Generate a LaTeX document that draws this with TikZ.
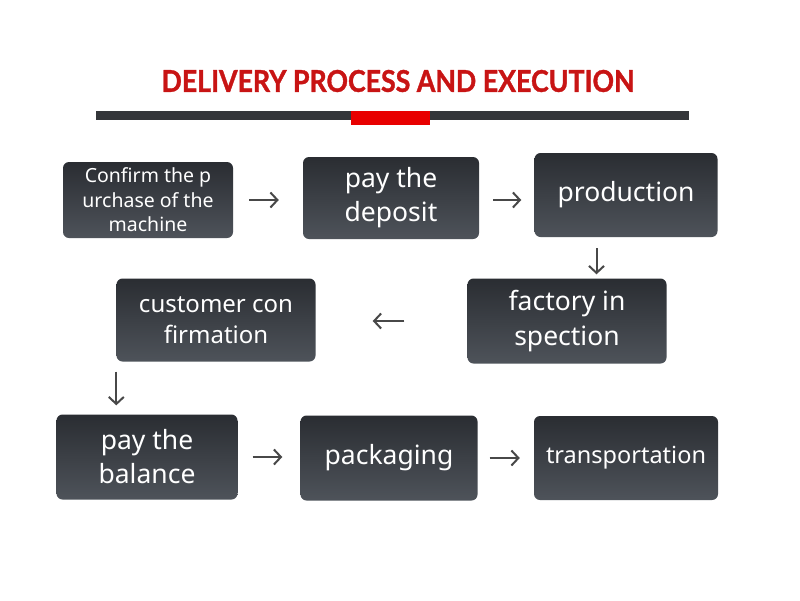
\documentclass[tikz,border=0pt]{standalone}
\usepackage{fontspec}
\setmainfont{Noto Sans}
\newfontfamily\titlefont[FakeStretch=0.89,BoldFeatures={FakeBold=1.2}]{Lato}
\usetikzlibrary{arrows.meta,calc,positioning}
\definecolor{titlered}{RGB}{200,20,20}
\definecolor{bargray}{RGB}{52,54,58}
\definecolor{barred}{RGB}{232,0,0}
\definecolor{boxtop}{RGB}{42,45,50}
\definecolor{boxbot}{RGB}{78,83,90}
\definecolor{arrowgray}{RGB}{72,72,72}

\begin{document}
\begin{tikzpicture}[x=1pt,y=-1pt,font=\fontsize{26.5}{34}\selectfont,
  box/.style={rectangle,rounded corners=6pt,top color=boxtop,bottom color=boxbot,
    text=white,align=center,inner sep=0pt},
  flow/.style={-{Straight Barb[length=7pt,width=15pt]},line width=2pt,draw=arrowgray}]

  \useasboundingbox[fill=white] (0,0) rectangle (800,600);

  % title and bar
  \node[font=\titlefont\bfseries\fontsize{30}{32}\selectfont,text=titlered] (title) at (398,81) {DELIVERY PROCESS AND EXECUTION};
  \fill[bargray] (96,111) rectangle (689,120);
  \fill[barred] (351,111) rectangle (430,125);

  % steps
  \node[box] (1) [minimum width=170pt, minimum height=76pt, font=\fontsize{19.5}{24.5}\selectfont] at (148,200) {Confirm the p\\urchase of the\\machine};
  \node[box] (2) [minimum width=176pt, minimum height=82pt] at (391,198) {pay the\\deposit};
  \node[box] (3) [minimum width=183pt, minimum height=84pt] at (626,195) {production};
  \node[box] (4) [minimum width=199pt, minimum height=85pt, font=\fontsize{26.5}{35}\selectfont] at (567,321) {factory in\\spection};
  \node[box] (5) [minimum width=199pt, minimum height=83pt, font=\fontsize{24}{31}\selectfont] at (216,320) {customer con\\firmation};
  \node[box] (6) [minimum width=181pt, minimum height=85pt] at (147,457) {pay the\\balance};
  \node[box] (7) [minimum width=177pt, minimum height=85pt] at (389,458) {packaging};
  \node[box] (8) [minimum width=184pt, minimum height=84pt, font=\fontsize{23.5}{28}\selectfont] at (626,458) {transportation};

  \coordinate (m34) at ($(3.south)!.5!(4.north)$);

  \draw[flow, shorten <=16pt, shorten >=24pt] (1) -- (1 -| 2.west);
  \draw[flow, shorten <=14pt, shorten >=13pt] (2.east |- 1) -- (1 -| 3.west);
  \draw[flow, shorten <=11pt, shorten >=4pt] (3.south -| m34) -- (4.north -| m34);
  \draw[flow, shorten <=63pt, shorten >=57pt] (4.west) -- (4.west -| 5.east);
  \draw[flow, shorten <=10pt, shorten >=9pt] (5.south west) -- (5.south west |- 6.north);
  \draw[flow, shorten <=15pt, shorten >=18pt] (6.east) -- (6.east -| 7.west);
  \draw[flow, shorten <=12pt, shorten >=14pt] (7.east) -- (7.east -| 8.west);

\end{tikzpicture}
\end{document}
